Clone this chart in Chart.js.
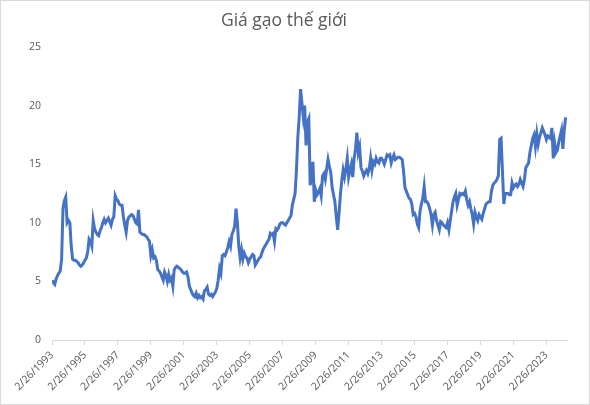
<!DOCTYPE html>
<html>
<head>
<meta charset="utf-8">
<script src="https://cdn.jsdelivr.net/npm/chart.js@4/dist/chart.umd.min.js"></script>
<style>
  html, body { margin: 0; padding: 0; background: #fff; }
  #wrap { position: relative; width: 588px; height: 403px; border: 1px solid #d9d9d9; }
</style>
</head>
<body>
<div id="wrap"><canvas id="riceChart"></canvas></div>
<script>
// monthly price, first value = Feb 1993
const riceValues = [
  5.1, 4.9, 4.75, 5.2, 5.5, 5.7, 5.9, 6.9, 11.2, 11.9, 12.2, 10.0,
  10.2, 10.0, 8.0, 6.9, 6.8, 6.8, 6.7, 6.6, 6.4, 6.3, 6.4, 6.6,
  6.8, 7.0, 7.5, 8.6, 8.4, 8.0, 10.2, 9.5, 9.2, 9.0, 8.9, 9.3,
  9.6, 10.0, 10.3, 10.0, 10.2, 10.4, 10.1, 9.8, 10.3, 10.5, 12.3, 12.0,
  11.9, 11.6, 11.5, 11.5, 10.5, 9.8, 9.2, 10.2, 10.5, 10.6, 10.7, 10.6,
  10.3, 10.0, 9.9, 11.1, 9.2, 9.1, 9.0, 9.0, 8.9, 8.8, 8.6, 8.4,
  7.2, 7.7, 7.0, 7.1, 6.8, 6.0, 5.9, 5.7, 5.4, 5.1, 5.8, 5.5,
  5.0, 5.6, 5.1, 5.3, 4.6, 6.0, 6.2, 6.3, 6.2, 6.1, 6.0, 5.8,
  5.7, 5.7, 5.8, 5.4, 4.6, 4.3, 4.0, 3.8, 3.7, 4.0, 3.6, 3.8,
  3.6, 3.7, 3.5, 4.2, 4.3, 4.5, 3.9, 3.8, 3.9, 3.7, 3.9, 4.1,
  4.4, 5.1, 6.1, 5.7, 7.2, 7.3, 7.2, 7.5, 7.9, 8.4, 8.0, 9.0,
  9.3, 9.7, 11.2, 10.0, 8.0, 7.0, 7.7, 6.9, 7.4, 7.1, 7.0, 6.6,
  6.9, 7.1, 7.3, 7.2, 6.4, 6.6, 6.8, 7.0, 7.1, 7.5, 7.8, 8.0,
  8.2, 8.4, 8.6, 9.1, 9.0, 9.1, 8.4, 9.5, 9.4, 9.6, 9.9, 10.0,
  10.0, 9.9, 9.8, 10.0, 10.2, 10.4, 10.6, 11.5, 12.0, 12.5, 14.5, 17.3,
  19.0, 21.4, 20.2, 19.0, 20.0, 16.6, 18.6, 18.9, 13.2, 14.0, 15.2, 11.8,
  12.8, 12.4, 12.6, 12.9, 12.3, 14.0, 14.2, 13.7, 14.6, 15.4, 14.8, 14.3,
  13.0, 12.4, 11.8, 10.5, 9.4, 10.8, 12.4, 13.6, 14.5, 13.9, 14.6, 15.5,
  13.9, 14.5, 15.0, 13.9, 15.5, 16.3, 17.7, 16.0, 16.5, 14.7, 14.4, 14.0,
  14.3, 14.5, 14.2, 14.6, 15.5, 14.5, 15.2, 15.0, 15.5, 15.2, 15.1, 15.5,
  15.5, 15.3, 15.0, 15.4, 15.8, 15.7, 15.8, 15.1, 15.5, 15.8, 15.4, 15.5,
  15.6, 15.6, 15.5, 15.4, 14.4, 13.0, 12.7, 12.4, 12.1, 12.0, 11.6, 10.7,
  10.8, 10.5, 9.9, 9.6, 11.0, 11.6, 12.1, 13.1, 11.8, 11.8, 11.6, 11.2,
  10.7, 9.8, 10.7, 10.9, 10.2, 9.8, 9.4, 10.1, 10.0, 9.8, 9.7, 9.6,
  10.0, 9.4, 10.2, 11.0, 11.8, 12.2, 12.5, 11.5, 12.0, 12.5, 12.4, 12.5,
  12.4, 12.7, 12.0, 11.5, 11.8, 11.2, 10.7, 9.9, 10.9, 10.5, 10.2, 10.7,
  10.5, 10.3, 10.8, 11.2, 11.6, 11.7, 11.8, 11.8, 12.7, 13.2, 13.4, 13.5,
  13.7, 14.0, 17.1, 17.2, 14.4, 11.6, 12.5, 12.5, 12.5, 12.4, 12.4, 13.4,
  13.0, 13.2, 13.3, 13.1, 13.3, 13.7, 13.4, 13.1, 13.7, 14.7, 14.9, 15.1,
  16.0, 16.6, 17.2, 17.5, 16.5, 17.6, 16.7, 17.3, 17.7, 18.1, 17.8, 17.5,
  17.1, 17.4, 17.3, 17.2, 18.1, 15.5, 16.8, 16.0, 16.2, 16.9, 17.4, 17.9,
  16.3, 17.9, 19.0
];

// one label every 24 months, starting at the first month
const tickLabels = [
  '2/26/1993', '2/26/1995', '2/26/1997', '2/26/1999', '2/26/2001', '2/26/2003',
  '2/26/2005', '2/26/2007', '2/26/2009', '2/26/2011', '2/26/2013', '2/26/2015',
  '2/26/2017', '2/26/2019', '2/26/2021', '2/26/2023'
];
const monthsPerTick = 24;

const yTicks = [0, 5, 10, 15, 20, 25];

const points = riceValues.map((v, i) => ({ x: i, y: v }));
const textColor = '#595959';
const fontName = "'Open Sans', 'Noto Sans', sans-serif";

const ctx = document.getElementById('riceChart').getContext('2d');
const riceChart = new Chart(ctx, {
  type: 'line',
  data: {
    datasets: [{
      label: 'Giá gạo',
      data: points,
      borderColor: '#4472C4',
      borderWidth: 3,
      pointRadius: 0,
      tension: 0,
      fill: false
    }]
  },
  options: {
    responsive: true,
    maintainAspectRatio: false,
    animation: false,
    layout: { padding: { left: 0, right: 22, top: 0, bottom: 4 } },
    plugins: {
      legend: { display: false },
      tooltip: { enabled: false },
      title: {
        display: true,
        text: 'Giá gạo thế giới',
        color: textColor,
        font: { family: fontName, size: 17.5, weight: 'normal' },
        padding: { top: 10, bottom: 15 }
      }
    },
    scales: {
      x: {
        type: 'linear',
        min: 0,
        max: 375,
        afterBuildTicks: (scale) => {
          scale.ticks = tickLabels.map((t, i) => ({ value: i * monthsPerTick }));
        },
        afterFit: (scale) => { scale.height = 60; },
        ticks: {
          color: textColor,
          font: { family: fontName, size: 10.5 },
          minRotation: 45,
          maxRotation: 45,
          padding: 4,
          callback: (value, index) => tickLabels[index]
        },
        grid: {
          drawOnChartArea: false,
          drawTicks: true,
          tickLength: 5,
          color: '#d9d9d9'
        },
        border: { display: true, color: '#d9d9d9' }
      },
      y: {
        min: 0,
        max: 25,
        afterBuildTicks: (scale) => {
          scale.ticks = yTicks.map(v => ({ value: v }));
        },
        afterFit: (scale) => { scale.width = 51; },
        ticks: {
          color: textColor,
          font: { family: fontName, size: 10.5 },
          padding: 11
        },
        grid: { display: false, drawTicks: false },
        border: { display: false }
      }
    }
  }
});
</script>
</body>
</html>
